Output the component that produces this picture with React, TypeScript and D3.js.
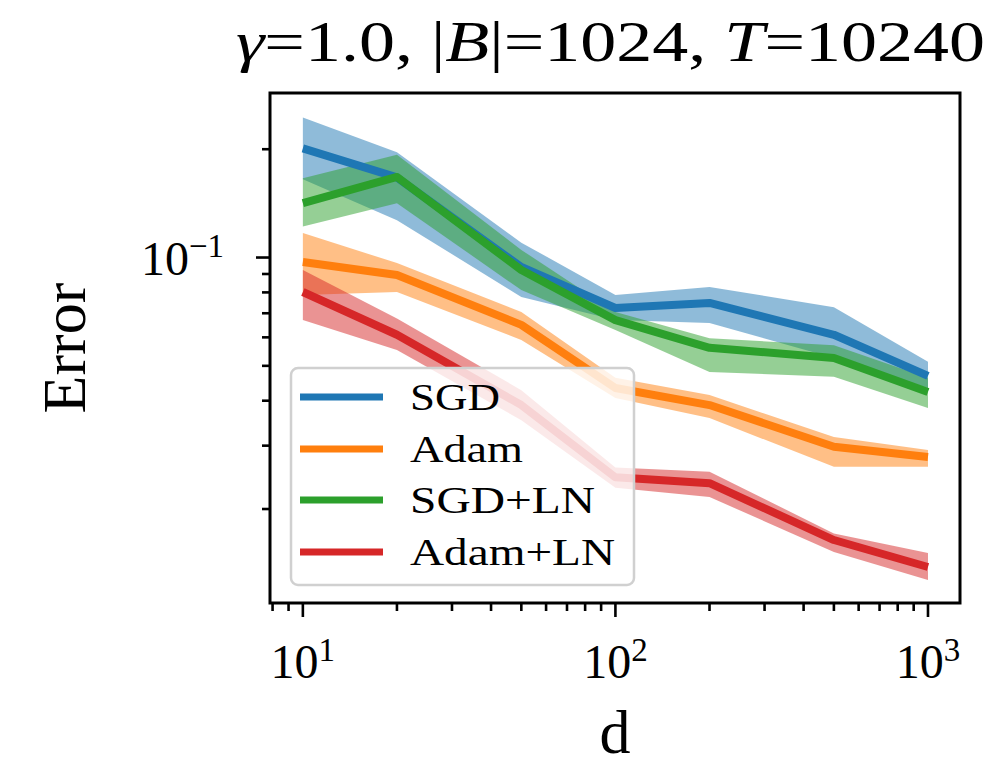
import React from 'react';
import * as d3 from 'd3';

// error vs d, mean with min/max band
const dims = [10, 20, 50, 100, 200, 500, 1000];

const sgdMean = [0.201, 0.167, 0.0941, 0.0724, 0.0748, 0.061, 0.0469];
const sgdLow = [0.165, 0.127, 0.0777, 0.067, 0.0658, 0.0526, 0.0434];
const sgdHigh = [0.245, 0.196, 0.11, 0.0787, 0.0828, 0.0728, 0.0513];

const adamMean = [0.0972, 0.0894, 0.065, 0.0434, 0.0389, 0.0298, 0.0279];
const adamLow = [0.0787, 0.0802, 0.059, 0.0407, 0.0358, 0.0262, 0.0262];
const adamHigh = [0.117, 0.0965, 0.0706, 0.0463, 0.0415, 0.0317, 0.0292];

const sgdLnMean = [0.1416, 0.1675, 0.0923, 0.067, 0.0561, 0.0526, 0.0423];
const sgdLnLow = [0.122, 0.1416, 0.0812, 0.0629, 0.0481, 0.0466, 0.0382];
const sgdLnHigh = [0.166, 0.193, 0.105, 0.0706, 0.0597, 0.057, 0.0463];

const adamLnMean = [0.0802, 0.061, 0.0389, 0.0245, 0.0236, 0.0164, 0.0138];
const adamLnLow = [0.067, 0.0553, 0.0353, 0.0229, 0.0216, 0.0152, 0.0127];
const adamLnHigh = [0.0923, 0.0677, 0.0428, 0.0261, 0.0254, 0.0171, 0.0151];

const seriesNames = ['SGD', 'Adam', 'SGD+LN', 'Adam+LN'];
const seriesColors = ['#1f77b4', '#ff7f0e', '#2ca02c', '#d62728'];
const legendWidths = [90, 113, 185, 205]; // rendered label widths in the original

const W = 1000, H = 766;
const left = 270, right = 960, top = 93, bottom = 603;
const font = '"Liberation Serif", "DejaVu Serif", serif';

export default function App() {
  const x = d3.scaleLog().domain([7.85, 1266]).range([left, right]);
  const y = d3.scaleLog().domain([0.01096, 0.2866]).range([bottom, top]);

  const series = [
    { mean: sgdMean, lo: sgdLow, hi: sgdHigh },
    { mean: adamMean, lo: adamLow, hi: adamHigh },
    { mean: sgdLnMean, lo: sgdLnLow, hi: sgdLnHigh },
    { mean: adamLnMean, lo: adamLnLow, hi: adamLnHigh },
  ];

  const line = d3.line<number>().x((d, i) => x(dims[i])).y(d => y(d));
  const area = (lo: number[], hi: number[]) =>
    d3.area<number>()
      .x(d => x(d))
      .y0((d, i) => y(lo[i]))
      .y1((d, i) => y(hi[i]))(dims);

  const isMajor = (v: number) => Math.abs(Math.log10(v) - Math.round(Math.log10(v))) < 1e-6;
  const xTicks = x.ticks();
  const yTicks = y.ticks();

  const legendY = [397, 449, 500, 552];

  return (
    <svg width={W} height={H} style={{ position: 'absolute', left: 0, top: 0, background: '#fff' }}>
      <defs>
        <clipPath id="plotclip">
          <rect x={left} y={top} width={right - left} height={bottom - top} />
        </clipPath>
      </defs>

      <g clipPath="url(#plotclip)">
        {series.map((s, k) => (
          <path key={'a' + k} d={area(s.lo, s.hi) || ''} fill={seriesColors[k]} fillOpacity={0.5} stroke="none" />
        ))}
        {series.map((s, k) => (
          <path key={'l' + k} d={line(s.mean) || ''} fill="none" stroke={seriesColors[k]}
            strokeWidth={8} strokeLinejoin="round" strokeLinecap="butt" />
        ))}
      </g>

      <rect x={left} y={top} width={right - left} height={bottom - top} fill="none" stroke="#000" strokeWidth={3} />

      {xTicks.map((t, i) => {
        const major = isMajor(t);
        const px = x(t);
        return (
          <g key={'xt' + i}>
            <line x1={px} x2={px} y1={bottom} y2={bottom + (major ? 14 : 8)} stroke="#000" strokeWidth={2.6} />
            {major && (
              <text x={px} y={678} textAnchor="middle" fontFamily={font} fontSize={48}>
                10<tspan dy={-17} fontSize={33}>{Math.round(Math.log10(t))}</tspan>
              </text>
            )}
          </g>
        );
      })}

      {yTicks.map((t, i) => {
        const major = isMajor(t);
        const py = y(t);
        return (
          <g key={'yt' + i}>
            <line x1={left} x2={left - (major ? 14 : 8)} y1={py} y2={py} stroke="#000" strokeWidth={2.6} />
            {major && (
              <text x={224} y={py + 17} textAnchor="end" fontFamily={font} fontSize={48}>
                10<tspan dy={-18} fontSize={33}>{'\u2212' + Math.abs(Math.round(Math.log10(t)))}</tspan>
              </text>
            )}
          </g>
        );
      })}

      <rect x={291} y={368} width={343} height={217} rx={7} fill="#fff" fillOpacity={0.8} stroke="#d0d0d0" strokeWidth={2.5} />
      {seriesNames.map((n, k) => (
        <g key={'lg' + k}>
          <line x1={300} x2={383} y1={legendY[k]} y2={legendY[k]} stroke={seriesColors[k]} strokeWidth={7} />
          <text x={410} y={legendY[k] + 13} fontFamily={font} fontSize={38}
            textLength={legendWidths[k]} lengthAdjust="spacingAndGlyphs">{n}</text>
        </g>
      ))}

      <text x={236} y={61} fontFamily={font} fontSize={58} textLength={749} lengthAdjust="spacingAndGlyphs">
        <tspan fontStyle="italic">γ</tspan>=1.0, |<tspan fontStyle="italic">B</tspan>|=1024, <tspan fontStyle="italic">T</tspan>=10240
      </text>

      <text x={615} y={753} textAnchor="middle" fontFamily={font} fontSize={62}>d</text>
      <text transform={`translate(85,${(top + bottom) / 2}) rotate(-90)`} textAnchor="middle" fontFamily={font} fontSize={62}>Error</text>
    </svg>
  );
}
